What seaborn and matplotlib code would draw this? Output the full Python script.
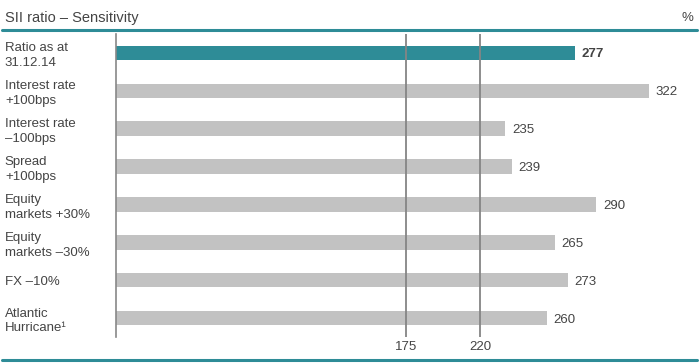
import matplotlib
matplotlib.use("Agg")
import matplotlib.pyplot as plt
from matplotlib.lines import Line2D
import pandas as pd
import seaborn as sns

categories = ["Ratio as at\n31.12.14", "Interest rate\n+100bps", "Interest rate\n\u2013100bps",
              "Spread\n+100bps", "Equity\nmarkets +30%", "Equity\nmarkets \u201330%",
              "FX \u201310%", "Atlantic\nHurricane\u00b9"]
values = [277, 322, 235, 239, 290, 265, 273, 260]
thresholds = [175, 220]

teal = "#2E8C97"
grey_bar = "#C2C2C2"
text_col = "#444444"

sns.set_style("white")
plt.rcParams["font.family"] = ["Liberation Sans", "DejaVu Sans"]

df = pd.DataFrame({"cat": categories, "val": values})
colors = [teal] + [grey_bar] * (len(categories) - 1)

fig = plt.figure(figsize=(7, 3.64), dpi=100)
ax = fig.add_axes([116 / 700, 27 / 364, 578 / 700, 303 / 364])

sns.barplot(data=df, x="val", y="cat", hue="cat", palette=colors, legend=False,
            orient="h", width=0.38, saturation=1, linewidth=0, ax=ax)

for t in thresholds:
    ax.axvline(t, color="#858585", lw=1.3, zorder=5)

ax.set_xlim(0, 349)
ax.set_ylim(7.5, -0.5)
ax.set_xticks(thresholds)
ax.set_xticklabels([str(t) for t in thresholds], fontsize=9.5, color=text_col)
ax.tick_params(axis="x", length=0, pad=3)
ax.tick_params(axis="y", length=0, pad=80)
for lab in ax.get_yticklabels():
    lab.set_horizontalalignment("left")
    lab.set_fontsize(9.5)
    lab.set_color(text_col)
    lab.set_linespacing(1.3)
ax.set_xlabel("")
ax.set_ylabel("")
for s in ["top", "right", "bottom"]:
    ax.spines[s].set_visible(False)
ax.spines["left"].set_color("#888888")
ax.spines["left"].set_linewidth(1.2)

for i, v in enumerate(values):
    ax.text(v + 4, i, str(v), va="center_baseline", ha="left", fontsize=9.5, color=text_col,
            fontweight="bold" if i == 0 else "normal")

fig.text(5 / 700, 1 - 18 / 364, "SII ratio \u2013 Sensitivity", fontsize=10.5,
         color=text_col, va="center", ha="left")
fig.text(693 / 700, 1 - 18 / 364, "%", fontsize=9.5, color=text_col, va="center", ha="right")
fig.add_artist(Line2D([2 / 700, 697 / 700], [1 - 30 / 364] * 2, color=teal, lw=2.2))
fig.add_artist(Line2D([2 / 700, 697 / 700], [1 - 359.5 / 364] * 2, color=teal, lw=2.2))

fig.savefig("out.png", dpi=100)
